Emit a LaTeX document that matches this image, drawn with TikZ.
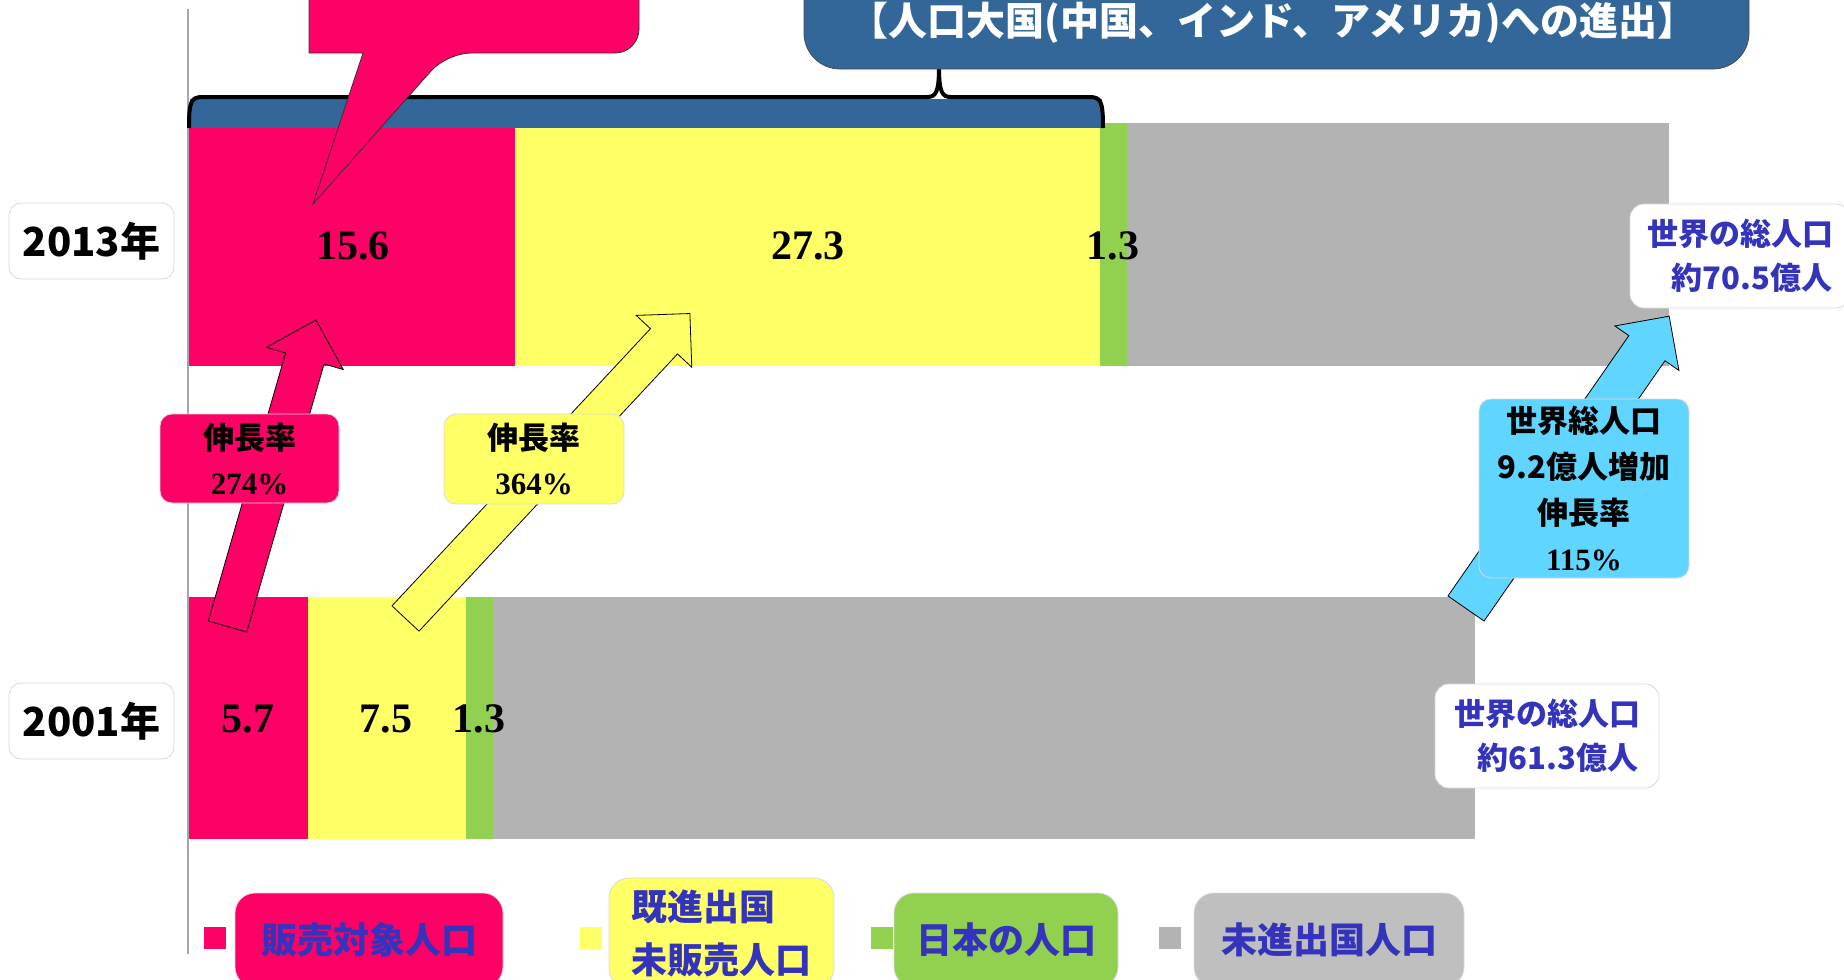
\documentclass[tikz,border=0pt]{standalone}
\usepackage{fontspec}
\setmainfont{Liberation Serif}
\newfontfamily\jp{Noto Sans CJK JP}
\definecolor{salepink}{HTML}{FF0066}
\definecolor{openyellow}{HTML}{FFFF66}
\definecolor{japangreen}{HTML}{92D050}
\definecolor{restgray}{HTML}{B3B3B3}
\definecolor{keygray}{HTML}{BFBFBF}
\definecolor{bigblue}{HTML}{336699}
\definecolor{worldcyan}{HTML}{60D5FF}
\definecolor{textblue}{HTML}{3333BB}
\definecolor{boxline}{HTML}{D9D9D9}
\definecolor{axisgray}{HTML}{A6A6A6}
\tikzset{
  yearbox/.style={draw=boxline, fill=white, rounded corners=6pt, inner sep=0pt,
    font=\jp\bfseries\fontsize{20}{24}\selectfont},
  numlabel/.style={inner sep=0pt, font=\bfseries\fontsize{21}{24}\selectfont},
  ratebox/.style={draw=boxline, rounded corners=6pt, inner sep=0pt, align=center,
    font=\bfseries\fontsize{15.5}{22.5}\selectfont},
  worldbox/.style={draw=boxline, fill=white, rounded corners=7pt, inner sep=0pt,
    align=center, text=textblue, font=\jp\bfseries\fontsize{15.5}{22}\selectfont},
  keybox/.style={draw=boxline, rounded corners=10pt, inner sep=0pt, align=left,
    text=textblue, font=\jp\bfseries\fontsize{18}{26.5}\selectfont},
  keysq/.style={minimum size=11pt, inner sep=0pt},
  arrowline/.style={draw=black, line width=0.4pt},
  bracestroke/.style={draw=black, line width=2pt},
  calltext/.style={text=white, inner sep=0pt, font=\jp\bfseries\fontsize{19.5}{22}\selectfont}
}
\newcommand{\blockarrow}[7]{%
  \filldraw[arrowline, fill=#7, shift={#1}, rotate=#2]
    (0,-#4) -- (#3-#6,-#4) -- (#3-#6,-#5) -- (#3,0) -- (#3-#6,#5) -- (#3-#6,#4) -- (0,#4) -- cycle;
}
\begin{document}
\begin{tikzpicture}[x=0.5pt,y=-0.5pt]
\useasboundingbox (0,0) rectangle (1844,980);
\clip (0,0) rectangle (1844,980);
\draw[axisgray, line width=1pt] (188,9) -- (188,954);
\fill[salepink] (189,123) rectangle (515,366);
\fill[openyellow] (515,123) rectangle (1100,366);
\fill[japangreen] (1100,123) rectangle (1127,366);
\fill[restgray] (1127,123) rectangle (1669,366);
\fill[salepink] (189,597) rectangle (308,839);
\fill[openyellow] (308,597) rectangle (466,839);
\fill[japangreen] (466,597) rectangle (493,839);
\fill[restgray] (493,597) rectangle (1475,839);
\fill[bigblue] (190,99) rectangle (1102,128);
\draw[bracestroke] (189,128) .. controls (189,101) and (191,97) .. (203,97) -- (927,97)
  .. controls (936,97) and (939,92) .. (939,67) .. controls (939,92) and (942,97) .. (951,97)
  -- (1089,97) .. controls (1101,97) and (1103,101) .. (1103,128);
\filldraw[fill=bigblue, draw=black!70, line width=0.4pt, rounded corners=18pt] (804,-80) rectangle (1749,69);
\node[calltext] (bigthree) at (1273,23) {【人口大国(中国、インド、アメリカ)への進出】};
\filldraw[fill=salepink, draw=black!80, line width=0.4pt] (639,-60) [rounded corners=12pt] -- (639,53)
  -- (447,53) [sharp corners] -- (313,204) -- (363,53) -- (309,53) [rounded corners=12pt] -- (309,-60)
  [sharp corners] -- cycle;
\blockarrow{(227.5,626.5)}{73.9}{319}{20}{40}{40}{salepink}
\blockarrow{(405.5,618.5)}{47}{417}{18.5}{38}{38}{openyellow}
\blockarrow{(1466,608.5)}{55.2}{356}{22}{39}{39}{worldcyan}
\node[yearbox, minimum width=82.5pt, minimum height=38pt] (y2013) at (91.5,241) {2013年};
\node[yearbox, minimum width=82.5pt, minimum height=38pt] (y2001) at (91.5,721) {2001年};
\node[numlabel] (n13a) at (353,246) {15.6};
\node[numlabel] (n13b) at (808,246) {27.3};
\node[numlabel] (n13c) at (1113,246) {1.3};
\node[numlabel] (n01a) at (248,719) {5.7};
\node[numlabel] (n01b) at (386,719) {7.5};
\node[numlabel] (n01c) at (479,719) {1.3};
\node[ratebox, fill=salepink, minimum width=89.5pt, minimum height=44.5pt] (ratepink) at (249.5,458.5) {{\jp 伸長率}\\274\%};
\node[ratebox, fill=openyellow, minimum width=90pt, minimum height=45pt] (rateyellow) at (534,459) {{\jp 伸長率}\\364\%};
\node[ratebox, fill=worldcyan, minimum width=105pt, minimum height=89.5pt,
  font=\bfseries\fontsize{15.5}{23}\selectfont] (ratecyan) at (1584,488.5)
  {{\jp 世界総人口}\\{\jp 9.2億人増加}\\{\jp 伸長率}\\115\%};
\node[worldbox, minimum width=110pt, minimum height=52pt] (world13) at (1740,256) {世界の総人口\\\hspace*{12pt}約70.5億人};
\node[worldbox, minimum width=112pt, minimum height=52pt] (world01) at (1547,736) {世界の総人口\\\hspace*{11pt}約61.3億人};
\node[keysq, fill=salepink] (sqpink) at (215,938) {};
\node[keysq, fill=openyellow] (sqyellow) at (590.5,938) {};
\node[keysq, fill=japangreen] (sqgreen) at (881.5,938) {};
\node[keysq, fill=restgray] (sqgray) at (1170,938) {};
\node[keybox, fill=salepink, minimum width=134pt, minimum height=47pt] (keypink) at (369,940) {販売対象人口};
\node[keybox, fill=openyellow, minimum width=112.5pt, minimum height=55pt] (keyyellow) at (721.5,933) {既進出国\\未販売人口};
\node[keybox, fill=japangreen, minimum width=112pt, minimum height=47pt] (keygreen) at (1006,940) {日本の人口};
\node[keybox, fill=keygray, minimum width=135pt, minimum height=47pt] (keygray) at (1329,940) {未進出国人口};
\end{tikzpicture}
\end{document}
